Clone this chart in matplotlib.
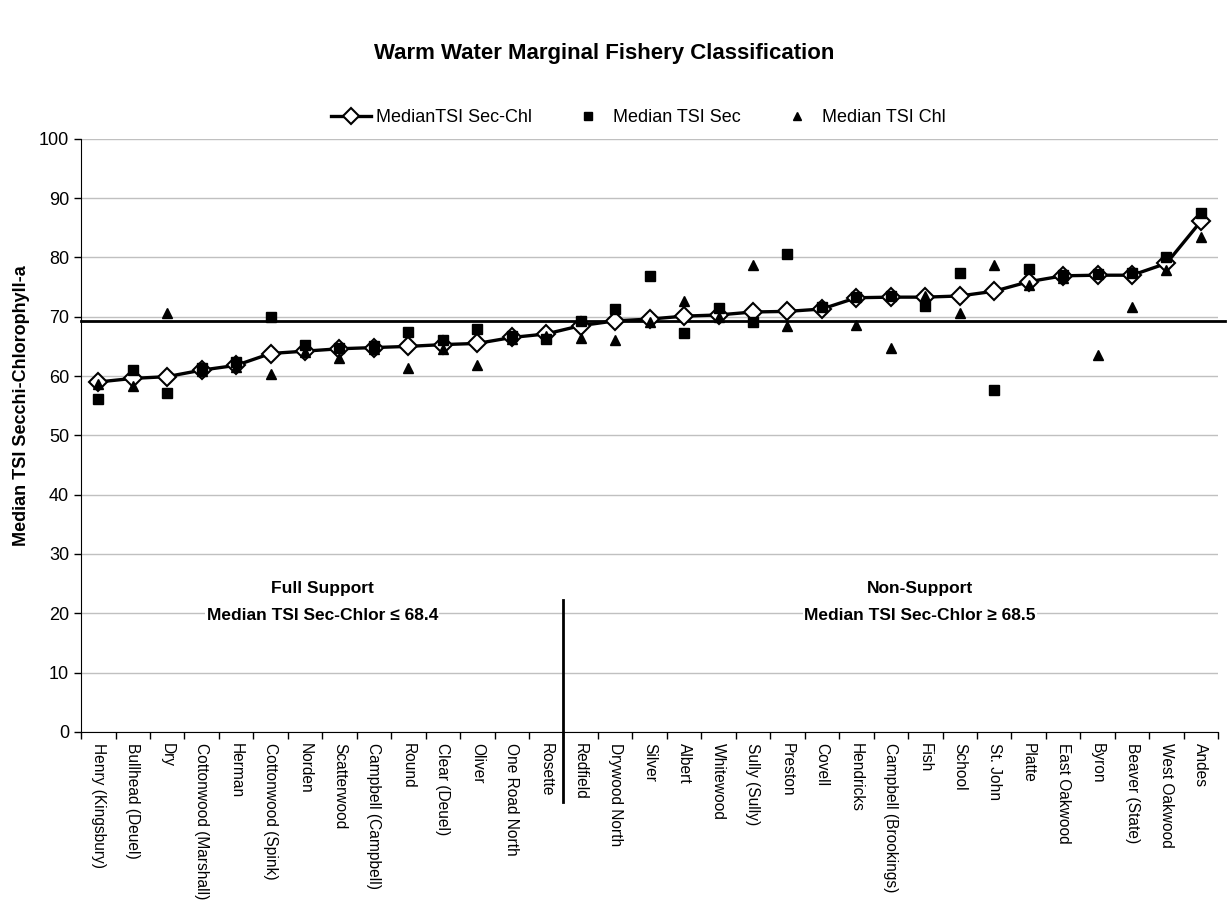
import numpy as np
import matplotlib
matplotlib.use('Agg')
import matplotlib.pyplot as plt

plt.rcParams['font.family'] = ['Liberation Sans', 'DejaVu Sans']

# lakes, sorted by median TSI
lakes = ['Henry (Kingsbury)', 'Bullhead (Deuel)', 'Dry', 'Cottonwood (Marshall)', 'Herman',
         'Cottonwood (Spink)', 'Norden', 'Scatterwood', 'Campbell (Campbell)', 'Round',
         'Clear (Deuel)', 'Oliver', 'One Road North', 'Rosette', 'Redfield', 'Drywood North',
         'Silver', 'Albert', 'Whitewood', 'Sully (Sully)', 'Preston', 'Covell', 'Hendricks',
         'Campbell (Brookings)', 'Fish', 'School', 'St. John', 'Platte', 'East Oakwood',
         'Byron', 'Beaver (State)', 'West Oakwood', 'Andes']

median_sec_chl = [59.0, 59.6, 59.9, 61.0, 61.8, 63.8, 64.2, 64.6, 64.8, 65.0,
                  65.3, 65.5, 66.5, 67.1, 68.5, 69.3, 69.6, 70.1, 70.3, 70.8,
                  70.9, 71.3, 73.2, 73.3, 73.3, 73.5, 74.3, 75.9, 76.9, 77.0,
                  77.0, 79.0, 86.1]

median_sec = [56.2, 61.1, 57.1, 61.4, 62.3, 70.0, 65.2, 64.8, 65.0, 67.4,
              66.0, 67.9, 66.8, 66.3, 69.2, 71.3, 76.8, 67.2, 71.5, 69.1,
              80.5, 71.6, 73.4, 73.5, 71.8, 77.3, 57.7, 78.0, 77.1, 77.2,
              77.3, 80.0, 87.5]

median_chl = [58.7, 58.4, 70.7, 60.8, 61.6, 60.4, 64.0, 63.1, 64.5, 61.4,
              64.5, 61.8, 66.3, 66.8, 66.4, 66.1, 69.1, 72.6, 70.0, 78.8,
              68.4, 71.8, 68.6, 64.8, 73.5, 70.7, 78.7, 75.3, 76.6, 63.5,
              71.7, 77.8, 83.5]

threshold = 69.2
split_pos = 13.5          # between Rosette and Redfield
split_span = (-11.8, 22.3)

x = np.arange(len(lakes))

fig = plt.figure(figsize=(12.28, 9.07), dpi=100)
ax = fig.add_axes([0.066, 0.193, 0.926, 0.654])

ax.yaxis.grid(True, color='#c0c0c0', linewidth=1.0)
ax.set_axisbelow(True)

ax.plot(x, median_sec_chl, color='black', linewidth=2.4, marker='D', markersize=9,
        markerfacecolor='white', markeredgecolor='black', markeredgewidth=1.5,
        label='MedianTSI Sec-Chl', zorder=3)
ax.plot(x, median_sec, linestyle='none', marker='s', markersize=6.5, color='black',
        label='Median TSI Sec', zorder=4)
ax.plot(x, median_chl, linestyle='none', marker='^', markersize=7, color='black',
        label='Median TSI Chl', zorder=5)

# classification threshold and split line
ax.plot([-0.5, 32.7], [threshold, threshold], color='black', linewidth=2.0,
        clip_on=False, zorder=2)
ax.plot([split_pos, split_pos], split_span, color='black', linewidth=2.0,
        clip_on=False, zorder=6)

ax.text(6.5, 24.1, 'Full Support', ha='center', va='center', fontsize=12.5,
        fontweight='bold', zorder=5)
ax.text(6.5, 19.7, 'Median TSI Sec-Chlor \u2264 68.4', ha='center', va='center',
        fontsize=12.5, fontweight='bold', zorder=5,
        bbox=dict(facecolor='white', edgecolor='none', pad=1))
ax.text(23.85, 24.1, 'Non-Support', ha='center', va='center', fontsize=12.5,
        fontweight='bold', zorder=5)
ax.text(23.85, 19.7, 'Median TSI Sec-Chlor \u2265 68.5', ha='center', va='center',
        fontsize=12.5, fontweight='bold', zorder=5,
        bbox=dict(facecolor='white', edgecolor='none', pad=1))

ax.set_xlim(-0.5, len(lakes) - 0.5)
ax.set_ylim(0, 100)
ax.set_yticks(np.arange(0, 101, 10))
ax.set_xticks(x)
ax.set_xticklabels(lakes, rotation=270, ha='center', va='top', fontsize=11.2)
ax.set_xticks(np.arange(-0.5, len(lakes)), minor=True)
ax.tick_params(axis='x', which='major', length=0, pad=8)
ax.tick_params(axis='x', which='minor', length=5, direction='out', width=1)
ax.tick_params(axis='y', length=5, direction='out', labelsize=13, width=1)

for s in ['top', 'right']:
    ax.spines[s].set_visible(False)

ax.set_ylabel('Median TSI Secchi-Chlorophyll-a', fontsize=13, fontweight='bold',
              labelpad=12)
ax.yaxis.set_label_coords(-0.045, 0.55)

ax.legend(loc='center', bbox_to_anchor=(0.52, 0.87), bbox_transform=fig.transFigure,
          ncol=3, frameon=False, fontsize=13, handlelength=2.2, columnspacing=2.0,
          markerscale=0.85, handletextpad=0.3)

fig.text(0.492, 0.941, 'Warm Water Marginal Fishery Classification', ha='center',
         va='center', fontsize=16, fontweight='bold')

fig.savefig('out.png', dpi=100)
